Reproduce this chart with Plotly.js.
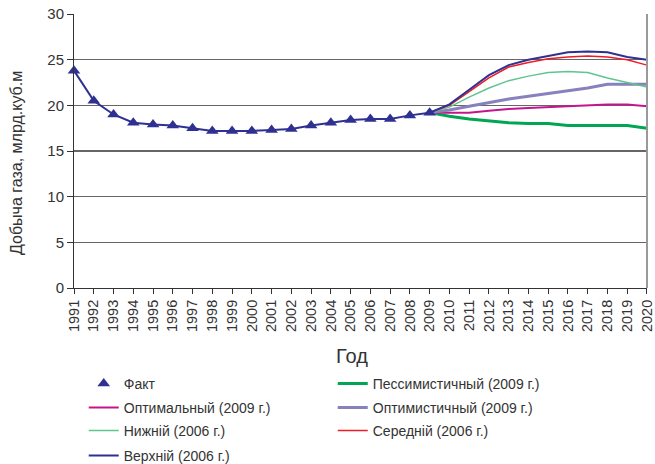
<!DOCTYPE html>
<html><head><meta charset="utf-8">
<script src="https://cdn.plot.ly/plotly-3.0.1.min.js"></script>
<style>html,body{margin:0;padding:0;background:#fff}#chart{width:655px;height:464px}</style>
</head><body><div id="chart"></div>
<script>
const factYears = [1991,1992,1993,1994,1995,1996,1997,1998,1999,2000,2001,2002,2003,2004,2005,2006,2007,2008,2009];
const factValues = [23.8,20.5,19.0,18.1,17.9,17.8,17.5,17.2,17.2,17.2,17.3,17.4,17.8,18.1,18.4,18.5,18.5,18.9,19.2];
const forecastYears = [2009,2010,2011,2012,2013,2014,2015,2016,2017,2018,2019,2020];
const pessimistic = [19.2,18.8,18.5,18.3,18.1,18.0,18.0,17.8,17.8,17.8,17.8,17.5];
const optimal = [19.2,19.2,19.2,19.4,19.6,19.7,19.8,19.9,20.0,20.1,20.1,19.9];
const optimistic = [19.2,19.5,19.9,20.3,20.7,21.0,21.3,21.6,21.9,22.3,22.3,22.3];
const lower2006 = [19.2,19.8,20.9,21.9,22.7,23.2,23.6,23.7,23.6,23.0,22.5,22.0];
const middle2006 = [19.2,20.0,21.5,23.0,24.2,24.7,25.1,25.3,25.4,25.3,25.0,24.4];
const upper2006 = [19.2,20.1,21.7,23.3,24.4,25.0,25.4,25.8,25.9,25.8,25.3,25.0];
const yTicks = [0,5,10,15,20,25,30];
const xTickYears = factYears.concat(forecastYears.slice(1));
const xTitle = 'Год';
const yTitle = 'Добыча газа, млрд.куб.м';

const names = {
  fact: 'Факт',
  pess: 'Пессимистичный (2009 г.)',
  opt: 'Оптимальный (2009 г.)',
  optim: 'Оптимистичный (2009 г.)',
  low: 'Нижній (2006 г.)',
  mid: 'Середній (2006 г.)',
  up: 'Верхній (2006 г.)'
};

function line(x, y, name, color, width, rank, leg) {
  return {x: x, y: y, name: name, type: 'scatter', mode: 'lines',
    line: {color: color, width: width}, legendrank: rank, legend: leg};
}

const traces = [
  line(forecastYears, pessimistic, names.pess, '#00a651', 3, 2, 'legend'),
  line(forecastYears, optimal, names.opt, '#c4168c', 2, 3, 'legend2'),
  line(forecastYears, optimistic, names.optim, '#8781bd', 3, 4, 'legend2'),
  line(forecastYears, lower2006, names.low, '#5fc58f', 1.5, 5, 'legend3'),
  line(forecastYears, middle2006, names.mid, '#ed1c24', 1.5, 6, 'legend3'),
  line(forecastYears, upper2006, names.up, '#2e3192', 2, 7, 'legend4'),
  {x: factYears, y: factValues, type: 'scatter', mode: 'lines', showlegend: false,
    line: {color: '#2e3192', width: 2}, hoverinfo: 'skip'},
  {x: factYears, y: factValues, name: names.fact, type: 'scatter', mode: 'markers',
    marker: {symbol: 'triangle-up', size: 11, color: '#2e3192'}, cliponaxis: false,
    legendrank: 1, legend: 'legend'}
];

const W = 655, H = 464;
const plotLeft = 74, plotRight = 647, plotTop = 14, plotBottom = 288;
const plotW = plotRight - plotLeft, plotH = plotBottom - plotTop;
const px = v => (v - plotLeft) / plotW;
const py = v => (plotBottom - v) / plotH;

function legendRow(topPx) {
  return {orientation: 'h', x: 0.017, xanchor: 'left', y: py(topPx), yanchor: 'top',
    entrywidth: 204, entrywidthmode: 'pixels', font: {size: 14, color: '#333'},
    itemwidth: 30, bgcolor: 'rgba(0,0,0,0)', traceorder: 'normal'};
}

const layout = {
  width: W, height: H,
  margin: {l: plotLeft, r: W - plotRight, t: plotTop, b: H - plotBottom, autoexpand: false},
  paper_bgcolor: '#fff', plot_bgcolor: '#fff',
  font: {family: 'Liberation Sans, Arial, sans-serif', color: '#333', size: 14},
  showlegend: true,
  legend: legendRow(368),
  legend2: legendRow(392),
  legend3: legendRow(415),
  legend4: legendRow(440),
  xaxis: {range: [1991, 2020.001], tickmode: 'array', tickvals: xTickYears,
    ticktext: xTickYears.map(String), tickangle: -90, tickfont: {size: 14.5, color: '#333'},
    automargin: false,
    showgrid: false, zeroline: false, showline: true, linecolor: '#333', linewidth: 1,
    ticks: 'outside', ticklen: 5, tickcolor: '#333'},
  yaxis: {range: [0, 30], tickmode: 'array', tickvals: yTicks, tickfont: {size: 15, color: '#333'},
    automargin: false,
    showgrid: true, gridcolor: '#666', gridwidth: 1.3, zeroline: false,
    showline: true, linecolor: '#333', linewidth: 1, ticks: 'outside', ticklen: 6, tickcolor: '#333'},
  annotations: [
    {text: xTitle, xref: 'paper', yref: 'paper', x: px(352), y: py(356), showarrow: false,
      xanchor: 'center', yanchor: 'middle', font: {size: 20, color: '#333'}},
    {text: yTitle, xref: 'paper', yref: 'paper', x: px(17), y: py(163), showarrow: false,
      textangle: -90, xanchor: 'center', yanchor: 'middle', font: {size: 16, color: '#333'}}
  ],
  shapes: [{type: 'line', xref: 'paper', yref: 'paper', x0: 1, x1: 1, y0: 0, y1: 1,
    line: {color: '#999', width: 2}}]
};

Plotly.newPlot('chart', traces, layout, {displayModeBar: false, staticPlot: true});
</script></body></html>
